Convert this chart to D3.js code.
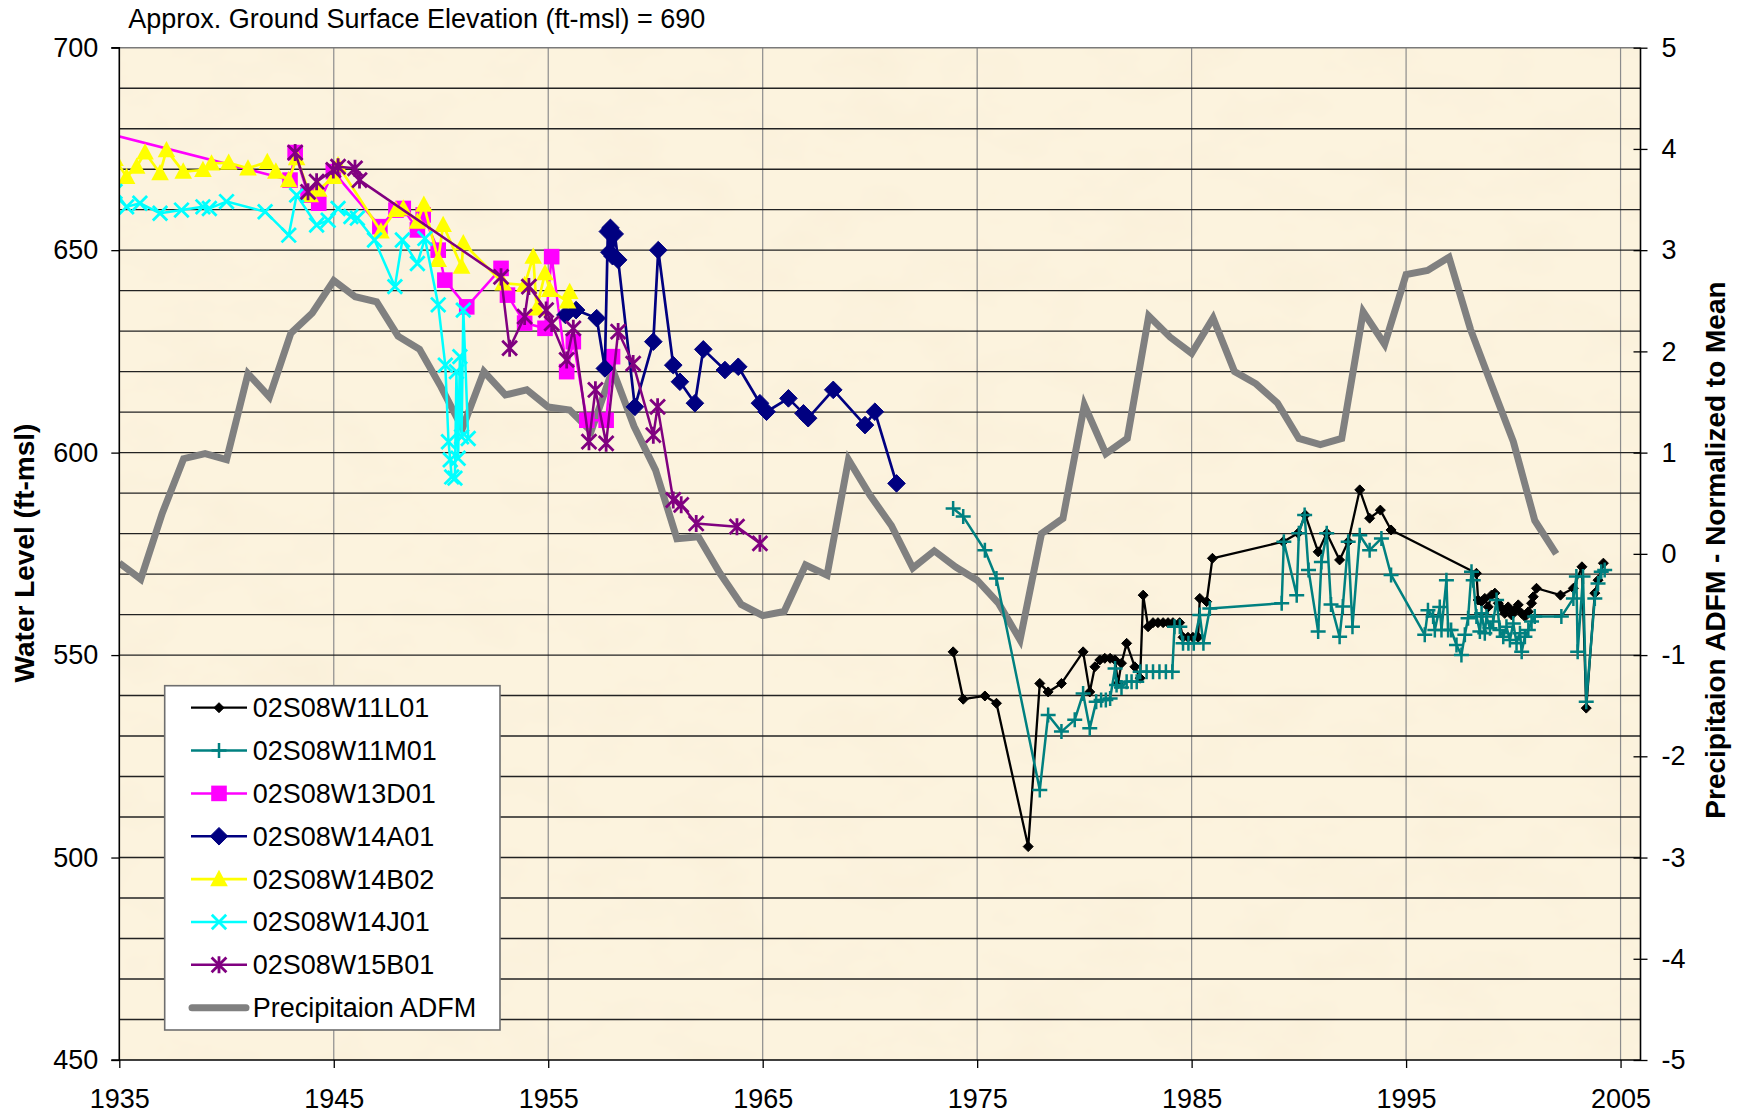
<!DOCTYPE html>
<html>
<head>
<meta charset="utf-8">
<script src="https://cdn.jsdelivr.net/npm/d3@7"></script>
<style>
  html, body { margin: 0; padding: 0; background: #ffffff; }
  svg { display: block; font-family: "Liberation Sans", Arial, sans-serif; }
</style>
</head>
<body>
<svg id="chart" width="1738" height="1117"></svg>
<script>
// ---------------- DATA ----------------
const titleText = "Approx. Ground Surface Elevation (ft-msl) = 690";
const leftAxisTitle = "Water Level (ft-msl)";
const rightAxisTitle = "Precipitaion ADFM - Normalized to Mean";
const xTicks = [1935, 1945, 1955, 1965, 1975, 1985, 1995, 2005];
const yTicks = [450, 500, 550, 600, 650, 700];
const y2Ticks = [-5, -4, -3, -2, -1, 0, 1, 2, 3, 4, 5];

// Precipitation ADFM (year, normalized value)
const precipYears = [1935,1936,1937,1938,1939,1940,1941,1942,1943,1944,1945,1946,1947,1948,1949,1950,1951,1952,1953,1954,1955,1956,1957,1958,1959,1960,1961,1962,1963,1964,1965,1966,1967,1968,1969,1970,1971,1972,1973,1974,1975,1976,1977,1978,1979,1980,1981,1982,1983,1984,1985,1986,1987,1988,1989,1990,1991,1992,1993,1994,1995,1996,1997,1998,1999,2000,2001,2002];
const precipValues = [-0.09,-0.25,0.40,0.94,0.99,0.93,1.78,1.55,2.18,2.38,2.70,2.54,2.49,2.15,2.02,1.65,1.24,1.80,1.57,1.62,1.45,1.42,1.21,1.82,1.26,0.83,0.15,0.17,-0.19,-0.50,-0.61,-0.57,-0.11,-0.21,0.93,0.58,0.28,-0.14,0.03,-0.13,-0.26,-0.49,-0.85,0.20,0.35,1.47,0.99,1.14,2.35,2.14,1.98,2.33,1.80,1.68,1.49,1.14,1.08,1.14,2.39,2.07,2.76,2.80,2.93,2.22,1.66,1.11,0.33,0.00];

// Well 02S08W11L01 [year, water level ft-msl]
const well11L01 = [[1973.88,550.8],[1974.35,539.1],[1975.36,539.9],[1975.9,538.1],[1977.38,502.7],[1977.92,543.0],[1978.31,540.9],[1978.93,543.0],[1979.94,550.8],[1980.25,540.9],[1980.49,547.1],[1980.72,548.8],[1980.95,549.2],[1981.2,549.2],[1981.43,548.8],[1981.57,543.0],[1981.73,548.0],[1981.97,552.9],[1982.35,547.1],[1982.6,544.3],[1982.74,564.8],[1982.97,557.0],[1983.2,558.0],[1983.43,558.0],[1983.67,558.0],[1983.9,558.0],[1984.13,558.0],[1984.44,558.0],[1984.6,554.4],[1984.83,554.4],[1985.06,554.4],[1985.3,554.4],[1985.38,564.0],[1985.7,563.2],[1985.97,573.9],[1989.27,578.0],[1989.96,580.1],[1990.3,584.6],[1990.9,575.5],[1991.3,580.1],[1991.9,573.5],[1992.3,578.0],[1992.84,590.8],[1993.3,583.8],[1993.8,585.8],[1994.3,580.9],[1998.28,570.2],[1998.36,563.6],[1998.52,563.2],[1998.67,564.0],[1998.83,561.9],[1998.98,564.8],[1999.14,565.3],[1999.3,562.8],[1999.45,561.6],[1999.6,560.3],[1999.76,561.9],[1999.92,559.9],[2000.07,561.1],[2000.23,562.4],[2000.39,560.3],[2000.54,559.5],[2000.7,560.7],[2000.85,562.8],[2000.93,564.4],[2001.08,566.5],[2002.2,564.8],[2002.8,566.5],[2003.2,571.8],[2003.4,536.9],[2003.8,565.3],[2003.95,568.5],[2004.2,572.7]];

// Well 02S08W11M01
const well11M01 = [[1973.88,586.2],[1974.35,584.2],[1975.36,575.9],[1975.9,568.9],[1977.92,516.7],[1978.31,535.2],[1978.93,531.1],[1979.55,534.0],[1979.94,540.5],[1980.25,531.9],[1980.55,538.5],[1980.78,538.9],[1981.0,538.9],[1981.2,539.3],[1981.43,546.7],[1981.5,542.6],[1981.73,542.0],[1981.97,543.4],[1982.2,543.4],[1982.44,543.4],[1982.6,545.9],[1982.9,545.9],[1983.2,545.9],[1983.5,545.9],[1983.8,545.9],[1984.1,545.9],[1984.2,557.0],[1984.45,557.0],[1984.6,552.9],[1984.85,552.9],[1985.1,552.9],[1985.38,559.9],[1985.55,552.9],[1985.85,561.5],[1989.2,562.8],[1989.3,578.0],[1989.9,564.8],[1990.0,580.1],[1990.27,584.6],[1990.45,571.0],[1990.9,555.8],[1991.05,573.0],[1991.3,580.1],[1991.5,562.5],[1991.9,554.5],[1992.05,562.0],[1992.3,578.0],[1992.5,557.0],[1992.84,579.6],[1993.3,575.9],[1993.85,578.8],[1994.3,569.8],[1995.87,555.0],[1996.02,561.1],[1996.26,559.5],[1996.34,556.2],[1996.57,561.9],[1996.65,556.2],[1996.88,568.5],[1996.96,556.2],[1997.1,556.2],[1997.35,552.5],[1997.58,550.0],[1997.74,555.0],[1997.89,559.1],[1998.05,570.6],[1998.13,568.5],[1998.28,559.5],[1998.44,555.8],[1998.52,560.3],[1998.67,555.4],[1998.75,559.5],[1998.91,556.6],[1999.06,558.3],[1999.22,563.6],[1999.37,556.2],[1999.53,554.5],[1999.68,557.0],[1999.84,553.7],[2000.0,557.8],[2000.15,552.9],[2000.31,555.4],[2000.39,550.8],[2000.54,554.5],[2000.7,556.2],[2000.85,558.3],[2001.0,559.5],[2002.24,559.5],[2002.8,564.0],[2002.94,569.4],[2003.0,550.8],[2003.25,569.4],[2003.4,538.5],[2003.8,564.0],[2003.95,567.7],[2004.1,570.6],[2004.26,571.0]];

// Well 02S08W13D01
const well13D01 = [[1933.0,680.8],[1942.96,667.3],[1943.2,674.1],[1943.8,663.6],[1944.3,661.6],[1944.98,669.4],[1947.15,655.8],[1947.9,659.9],[1948.24,660.3],[1948.9,655.0],[1949.17,658.7],[1949.87,650.0],[1950.18,642.6],[1951.2,636.0],[1952.8,645.5],[1953.1,638.9],[1953.9,632.0],[1954.85,630.7],[1955.16,648.4],[1955.86,620.0],[1956.17,627.4],[1956.8,608.0],[1957.7,608.0],[1958.0,623.7]];

// Well 02S08W14A01
const well14A01 = [[1955.8,634.0],[1956.3,635.2],[1957.26,633.2],[1957.64,620.8],[1957.78,654.6],[1957.85,649.5],[1957.9,655.5],[1958.0,648.5],[1958.1,654.0],[1958.26,647.6],[1959.04,611.3],[1959.9,627.4],[1960.13,650.0],[1960.83,621.6],[1961.14,617.5],[1961.84,612.2],[1962.23,625.5],[1963.24,620.4],[1963.86,621.2],[1964.87,612.2],[1965.18,610.1],[1966.2,613.4],[1966.9,609.7],[1967.12,608.5],[1968.29,615.5],[1969.77,606.8],[1970.23,610.1],[1971.24,592.4]];

// Well 02S08W14B02
const well14B02 = [[1934.8,672.5],[1935.34,668.1],[1935.81,670.6],[1936.2,674.1],[1936.9,669.0],[1937.2,674.7],[1937.98,669.4],[1938.9,669.8],[1939.3,671.4],[1940.1,671.6],[1941.0,670.2],[1941.9,671.8],[1942.3,669.4],[1942.9,667.3],[1943.27,672.7],[1943.9,663.6],[1944.3,664.9],[1945.0,668.1],[1945.2,671.0],[1947.2,654.6],[1947.9,659.9],[1948.24,660.3],[1948.9,657.0],[1949.2,661.2],[1949.87,647.6],[1950.1,656.2],[1950.96,645.9],[1951.04,651.7],[1952.9,641.8],[1953.9,641.4],[1954.3,648.4],[1954.46,635.6],[1954.85,644.3],[1955.07,640.2],[1955.9,637.3],[1956.0,639.7]];

// Well 02S08W14J01
const well14J01 = [[1934.8,664.5],[1935.34,660.7],[1935.96,661.6],[1936.9,659.1],[1937.9,659.9],[1938.9,660.7],[1939.2,660.3],[1940.0,662.0],[1941.8,659.5],[1942.9,653.7],[1943.27,663.6],[1944.2,656.2],[1944.74,657.4],[1945.2,660.3],[1945.8,658.3],[1946.1,657.9],[1946.9,652.5],[1947.85,641.0],[1948.2,652.5],[1948.9,646.7],[1949.25,652.9],[1949.87,636.5],[1950.2,621.6],[1950.35,602.7],[1950.43,598.2],[1950.5,594.0],[1950.65,593.7],[1950.72,620.0],[1950.8,598.6],[1950.88,623.7],[1950.96,603.9],[1951.04,635.2],[1951.27,603.5]];

// Well 02S08W15B01
const well15B01 = [[1943.2,674.1],[1943.8,664.4],[1944.2,666.9],[1944.98,669.8],[1945.2,670.6],[1945.99,670.2],[1946.2,667.3],[1952.8,643.4],[1953.2,625.8],[1953.9,633.6],[1954.1,641.0],[1954.9,635.2],[1955.16,631.9],[1955.86,622.9],[1956.17,630.7],[1956.9,602.7],[1957.2,615.5],[1957.7,602.3],[1958.26,629.9],[1958.96,622.0],[1959.9,604.3],[1960.1,611.3],[1960.83,588.3],[1961.2,587.1],[1961.9,582.5],[1963.8,581.7],[1964.87,577.6]];

const seriesNames = ["02S08W11L01","02S08W11M01","02S08W13D01","02S08W14A01","02S08W14B02","02S08W14J01","02S08W15B01"];
const precipName = "Precipitaion ADFM";

// ---------------- STYLE / LAYOUT ----------------
const P = { left: 119.3, right: 1640.5, top: 47.7, bottom: 1060 };
const seriesStyle = [
  { data: well11L01, color: "#000000", marker: "diamond", size: 5, lw: 2.3 },
  { data: well11M01, color: "#008080", marker: "plus", size: 7.5, lw: 2.5 },
  { data: well13D01, color: "#FF00FF", marker: "square", size: 7.8, lw: 2.5 },
  { data: well14A01, color: "#000080", marker: "diamond", size: 8.8, lw: 2.7 },
  { data: well14B02, color: "#FFFF00", marker: "triangle", size: 8.8, lw: 2.7 },
  { data: well14J01, color: "#00FFFF", marker: "x", size: 7.2, lw: 2.5 },
  { data: well15B01, color: "#800080", marker: "asterisk", size: 7.4, lw: 2.5 }
];

const svg = d3.select("#chart");
const defs = svg.append("defs");
defs.append("clipPath").attr("id", "plotclip").append("rect")
  .attr("x", P.left).attr("y", P.top).attr("width", P.right - P.left).attr("height", P.bottom - P.top);
const f = defs.append("filter").attr("id", "paper").attr("x", 0).attr("y", 0).attr("width", "100%").attr("height", "100%");
f.append("feTurbulence").attr("type", "fractalNoise").attr("baseFrequency", "0.012 0.02").attr("numOctaves", 4).attr("seed", 7).attr("result", "n");
f.append("feColorMatrix").attr("in", "n").attr("type", "matrix")
  .attr("values", "0 0 0 0 0.93  0 0 0 0 0.84  0 0 0 0 0.66  0.9 0 0 0 -0.40");

// scales
const x = d3.scaleLinear().domain([1935, 2005.93]).range([P.left, P.right]);
const y = d3.scaleLinear().domain([450, 700]).range([P.bottom, P.top]);
const y2 = d3.scaleLinear().domain([-5, 5]).range([P.bottom, P.top]);

// background
svg.append("rect").attr("x", P.left).attr("y", P.top).attr("width", P.right - P.left).attr("height", P.bottom - P.top)
  .attr("fill", "#FCF3DE");
svg.append("rect").attr("x", P.left).attr("y", P.top).attr("width", P.right - P.left).attr("height", P.bottom - P.top)
  .attr("filter", "url(#paper)");

// gridlines
const grid = svg.append("g");
grid.selectAll("line.v").data(d3.range(1945, 2006, 10)).enter().append("line")
  .attr("x1", d => x(d)).attr("x2", d => x(d)).attr("y1", P.top).attr("y2", P.bottom)
  .attr("stroke", "#8c8c8c").attr("stroke-width", 1.2);
grid.selectAll("line.h").data(d3.range(460, 701, 10)).enter().append("line")
  .attr("x1", P.left).attr("x2", P.right).attr("y1", d => y(d)).attr("y2", d => y(d))
  .attr("stroke", d => d === 700 ? "#7a7a7a" : "#222222").attr("stroke-width", 1.4);

// precipitation line (secondary axis)
const precip = precipYears.map((yr, i) => [yr, precipValues[i]]);
svg.append("path").datum(precip)
  .attr("clip-path", "url(#plotclip)")
  .attr("d", d3.line().x(d => x(d[0])).y(d => y2(d[1])))
  .attr("fill", "none").attr("stroke", "#808080").attr("stroke-width", 7).attr("stroke-linejoin", "miter");

// marker drawing
function drawMarker(g, type, s, color) {
  if (type === "diamond") {
    g.append("path").attr("d", `M0,${-s}L${s},0L0,${s}L${-s},0Z`).attr("fill", color).attr("stroke", color).attr("stroke-width", 1);
  } else if (type === "square") {
    g.append("rect").attr("x", -s).attr("y", -s).attr("width", 2 * s).attr("height", 2 * s).attr("fill", color);
  } else if (type === "triangle") {
    g.append("path").attr("d", `M0,${-s * 1.05}L${s},${s * 0.8}L${-s},${s * 0.8}Z`).attr("fill", color);
  } else if (type === "plus") {
    g.append("path").attr("d", `M${-s},0H${s}M0,${-s}V${s}`).attr("stroke", color).attr("stroke-width", 2.5);
  } else if (type === "x") {
    g.append("path").attr("d", `M${-s},${-s}L${s},${s}M${s},${-s}L${-s},${s}`).attr("stroke", color).attr("stroke-width", 2.8);
  } else if (type === "asterisk") {
    g.append("path").attr("d", `M${-s},${-s}L${s},${s}M${s},${-s}L${-s},${s}M0,${-s * 1.15}V${s * 1.15}`).attr("stroke", color).attr("stroke-width", 2.8);
  }
}

const seriesG = svg.append("g").attr("clip-path", "url(#plotclip)");
seriesStyle.forEach(st => {
  const g = seriesG.append("g");
  g.append("path").datum(st.data)
    .attr("d", d3.line().x(d => x(d[0])).y(d => y(d[1])))
    .attr("fill", "none").attr("stroke", st.color).attr("stroke-width", st.lw).attr("stroke-linejoin", "round");
  st.data.forEach(d => {
    const m = g.append("g").attr("transform", `translate(${x(d[0])},${y(d[1])})`);
    drawMarker(m, st.marker, st.size, st.color);
  });
});

// axes
const fontSize = 27;
const leftAxis = svg.append("g").attr("transform", `translate(${P.left},0)`)
  .call(d3.axisLeft(y).tickValues(yTicks).tickSize(8).tickPadding(13).tickFormat(d => String(d)));
const bottomAxis = svg.append("g").attr("transform", `translate(0,${P.bottom})`)
  .call(d3.axisBottom(x).tickValues(xTicks).tickSize(8).tickPadding(21).tickFormat(d => String(d)));
const rightAxis = svg.append("g").attr("transform", `translate(${P.right},0)`)
  .call(d3.axisRight(y2).tickValues(y2Ticks).tickSize(7).tickPadding(14).tickFormat(d => String(d)));
rightAxis.selectAll(".tick line").attr("x1", -7);
[leftAxis, bottomAxis, rightAxis].forEach(a => {
  a.select(".domain").attr("stroke", "#000").attr("stroke-width", 1.6);
  a.selectAll(".tick line").attr("stroke", "#000").attr("stroke-width", 1.3);
  a.selectAll(".tick text").attr("font-size", fontSize).attr("fill", "#000")
    .attr("font-family", "'Liberation Sans', Arial, sans-serif");
});
leftAxis.select(".domain").attr("d", `M-8,${P.top}H0V${P.bottom}H-8`);
bottomAxis.select(".domain").attr("d", `M${P.left},0H${P.right}`);
rightAxis.select(".domain").attr("d", `M0,${P.top}V${P.bottom}`);

// titles
svg.append("text").attr("x", 128.3).attr("y", 28.3).attr("font-size", 27).attr("fill", "#000").text(titleText);
svg.append("text").attr("transform", `translate(34,553) rotate(-90)`).attr("text-anchor", "middle")
  .attr("font-size", 28).attr("font-weight", "bold").attr("fill", "#000").text(leftAxisTitle);
svg.append("text").attr("transform", `translate(1725,550) rotate(-90)`).attr("text-anchor", "middle")
  .attr("font-size", 28).attr("font-weight", "bold").attr("fill", "#000").text(rightAxisTitle);

// legend
const L = { x: 164.7, y: 685.7, w: 335.3, h: 344.3, row0: 707.7, step: 42.85 };
const leg = svg.append("g");
leg.append("rect").attr("x", L.x).attr("y", L.y).attr("width", L.w).attr("height", L.h)
  .attr("fill", "#ffffff").attr("stroke", "#6e6e6e").attr("stroke-width", 1.6);
seriesStyle.forEach((st, i) => {
  const ry = L.row0 + i * L.step;
  leg.append("line").attr("x1", 191).attr("x2", 247).attr("y1", ry).attr("y2", ry)
    .attr("stroke", st.color).attr("stroke-width", st.lw);
  const m = leg.append("g").attr("transform", `translate(219,${ry})`);
  drawMarker(m, st.marker, st.size, st.color);
  leg.append("text").attr("x", 252.7).attr("y", ry + 9.5).attr("font-size", 27).attr("fill", "#000").text(seriesNames[i]);
});
{
  const ry = L.row0 + 7 * L.step;
  leg.append("line").attr("x1", 192).attr("x2", 246).attr("y1", ry).attr("y2", ry)
    .attr("stroke", "#808080").attr("stroke-width", 7).attr("stroke-linecap", "round");
  leg.append("text").attr("x", 252.7).attr("y", ry + 9.5).attr("font-size", 27).attr("fill", "#000").text(precipName);
}
</script>
</body>
</html>
